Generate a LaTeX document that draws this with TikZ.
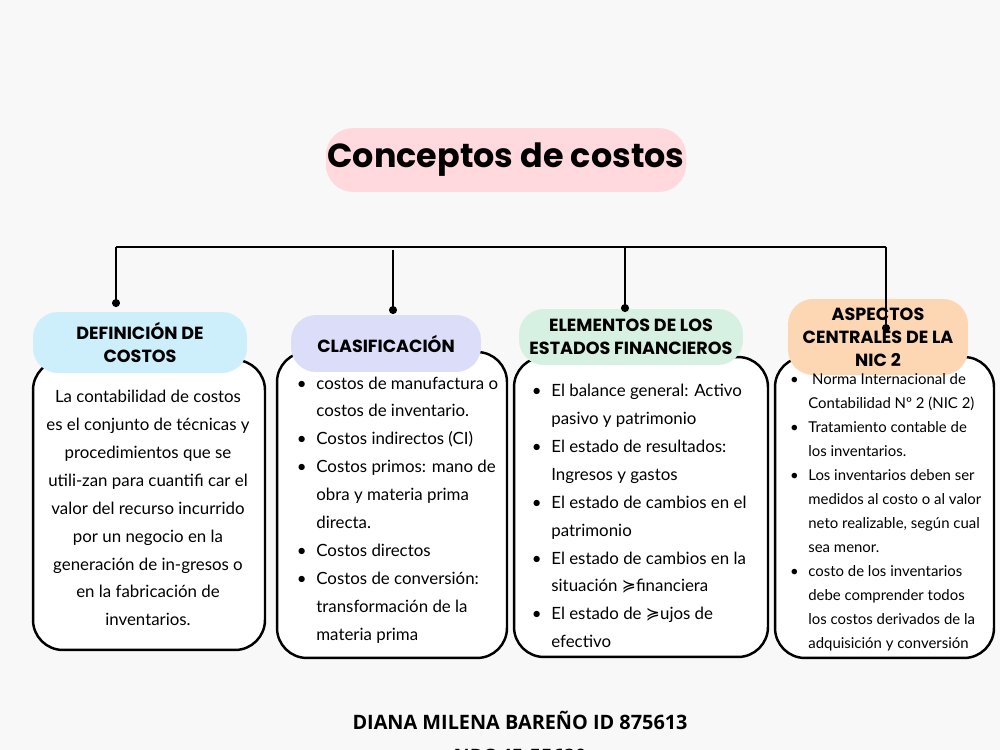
\documentclass[tikz,border=0pt]{standalone}
\usepackage{fontspec}
\setmainfont{Lato}
\newfontfamily\titlefont{Poppins}
\newfontfamily\headfont{Poppins}
\newfontfamily\footfont{Open Sans}
\newfontfamily\symfont{DejaVu Sans}
\usetikzlibrary{arrows.meta, positioning}

\definecolor{bgcol}{HTML}{F8F8F8}
\definecolor{titlepink}{HTML}{FFD9DE}
\definecolor{pillblue}{HTML}{CDEFFB}
\definecolor{pilllilac}{HTML}{DCDDF9}
\definecolor{pillmint}{HTML}{D6F0E1}
\definecolor{pillpeach}{HTML}{FDD7B4}

\newcommand{\bul}{\leavevmode\llap{\textbullet\hspace{5.5pt}}}
\newcommand{\flglyph}{{\symfont ≽}}

\begin{document}
\begin{tikzpicture}[
    x=0.02cm, y=-0.02cm,
    titlepill/.style={
        rectangle,
        rounded corners=0.55cm,
        fill=titlepink,
        inner sep=1pt,
        minimum width=7.06cm,
        minimum height=1.28cm,
        font=\titlefont\bfseries\fontsize{19}{23}\selectfont
    },
    pill/.style={
        rectangle,
        rounded corners=0.5cm,
        inner sep=0pt,
        align=center,
        font=\headfont\bfseries\fontsize{10}{13}\selectfont
    },
    card/.style={
        rectangle,
        rounded corners=0.6cm,
        draw=black,
        line width=1.4pt,
        fill=white,
        inner sep=0pt
    },
    cardtext/.style={
        inner sep=0pt,
        align=left,
        font=\fontsize{9.6}{15.9}\selectfont
    },
    bus/.style={
        line width=1.4pt
    },
    link/.style={
        line width=1.4pt,
        -{Circle[length=4.5pt]}
    }
]

\useasboundingbox (0,0) rectangle (1000,750);
\fill[bgcol] (0,0) rectangle (1000,750);

% ============================================
% Title
% ============================================
\node[titlepill] (title) at (506,160) {Conceptos de costos};

% ============================================
% Cards (drawn first, pills sit on top)
% ============================================
\node[card, minimum width=4.64cm, minimum height=5.8cm] (defcard) at (149,505) {};
\node[card, minimum width=4.6cm, minimum height=6.12cm] (clascard) at (392,505) {};
\node[card, minimum width=5.08cm, minimum height=6.0cm] (elemcard) at (641,507) {};
\node[card, minimum width=4.38cm, minimum height=6.02cm] (niccard) at (884.5,507.5) {};

% ============================================
% Heading pills
% ============================================
\node[pill, fill=pillblue, minimum width=4.28cm, minimum height=1.22cm] (defpill) at (140,342.5) {DEFINICIÓN DE\\COSTOS};
\node[pill, fill=pilllilac, minimum width=3.8cm, minimum height=1.14cm] (claspill) at (386,343.5) {CLASIFICACIÓN};
\node[pill, fill=pillmint, minimum width=4.48cm, minimum height=1.12cm] (elempill) at (631,337) {ELEMENTOS DE LOS\\ESTADOS FINANCIEROS};
\node[pill, fill=pillpeach, minimum width=3.6cm, minimum height=1.52cm] (nicpill) at (878,337) {ASPECTOS\\CENTRALES DE LA\\NIC 2};

% ============================================
% Card texts
% ============================================
\node[cardtext, align=center] (deftext) at (148,508) {
    La contabilidad de costos\\
    es el conjunto de técnicas y\\
    procedimientos que se\\
    utili-zan para cuantifi car el\\
    valor del recurso incurrido\\
    por un negocio en la\\
    generación de in-gresos o\\
    en la fabricación de\\
    inventarios.
};

\node[cardtext, anchor=west] (clastext) at (316,510) {
    \bul costos de manufactura o\\
    costos de inventario.\\
    \bul Costos indirectos (CI)\\
    \bul Costos primos: mano de\\
    obra y materia prima\\
    directa.\\
    \bul Costos directos\\
    \bul Costos de conversión:\\
    transformación de la\\
    materia prima
};

\node[cardtext, anchor=west] (elemtext) at (551,516) {
    \bul El balance general: Activo\\
    pasivo y patrimonio\\
    \bul El estado de resultados:\\
    Ingresos y gastos\\
    \bul El estado de cambios en el\\
    patrimonio\\
    \bul El estado de cambios en la\\
    situación \flglyph financiera\\
    \bul El estado de \flglyph ujos de\\
    efectivo
};

\node[cardtext, anchor=west, font=\fontsize{8.5}{13.66}\selectfont] (nictext) at (808,512) {
    \bul\hspace{0.25em}Norma Internacional de\\
    Contabilidad Nº 2 (NIC 2)\\
    \bul Tratamiento contable de\\
    los inventarios.\\
    \bul Los inventarios deben ser\\
    medidos al costo o al valor\\
    neto realizable, según cual\\
    sea menor.\\
    \bul costo de los inventarios\\
    debe comprender todos\\
    los costos derivados de la\\
    adquisición y conversión
};

% ============================================
% Connectors
% ============================================
\coordinate (busL) at (116,247);
\coordinate (busR) at (886,247);
\coordinate (bus2) at (393,250);
\coordinate (bus3) at (625,247);
\coordinate (dot1) at (116,307);
\coordinate (dot2) at (393,314);
\coordinate (dot3) at (625,312);
\coordinate (dot4) at (886,332);

\draw[bus] (busL) -- (busR);
\draw[link] (busL) -- (dot1);
\draw[link] (bus2) -- (dot2);
\draw[link] (bus3) -- (dot3);
\draw[link] (busR) -- (dot4);

% Footer
\node[font=\footfont\bfseries\fontsize{11.3}{19.3}\selectfont, align=center] (author) at (520,737) {DIANA MILENA BAREÑO ID 875613\\NRC 45-55620};

\end{tikzpicture}
\end{document}
